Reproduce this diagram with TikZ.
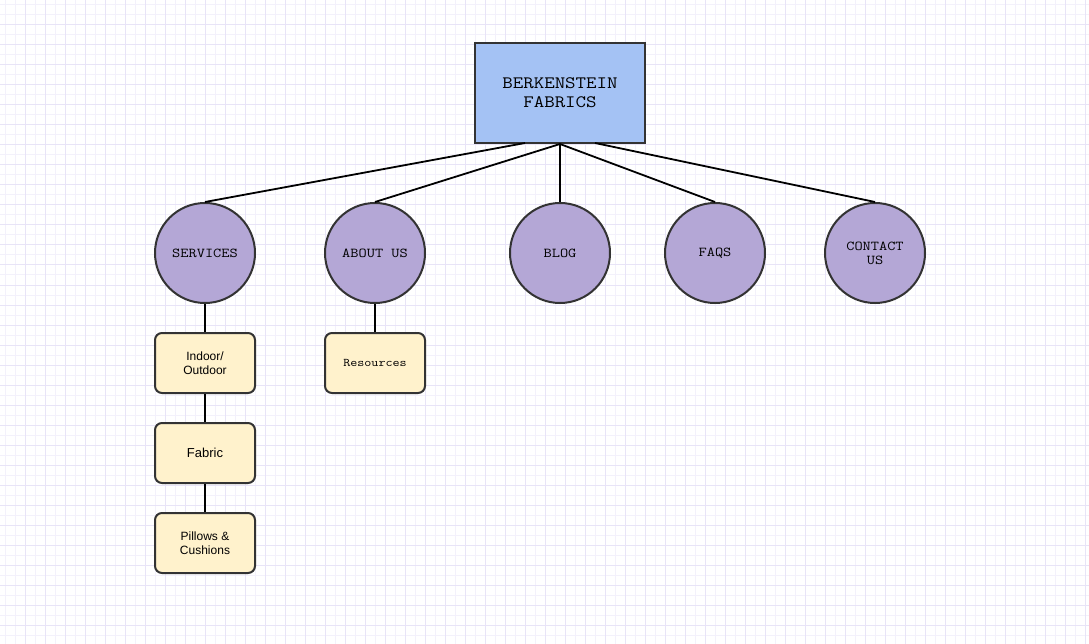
\documentclass[tikz,border=0pt]{standalone}
\usepackage{fontspec}
\setmainfont{Liberation Sans}
\newfontfamily\monofont[FakeStretch=1.17]{Latin Modern Mono}
\definecolor{gridminor}{HTML}{F3F1FB}
\definecolor{gridmajor}{HTML}{E8E4F7}
\definecolor{rootfill}{HTML}{A4C2F4}
\definecolor{sectionfill}{HTML}{B4A7D6}
\definecolor{pagefill}{HTML}{FFF2CC}
\definecolor{edgecol}{HTML}{333333}
\tikzset{
  rootbox/.style={draw=edgecol, line width=2pt, fill=rootfill, minimum width=170pt, minimum height=100pt, inner sep=0pt, align=center, font=\monofont\fontsize{17.4}{19}\selectfont},
  section/.style={circle, draw=edgecol, line width=2pt, fill=sectionfill, minimum size=100pt, inner sep=0pt, align=center, font=\monofont\fontsize{13.6}{14}\selectfont},
  pagebox/.style={draw=edgecol, line width=2pt, fill=pagefill, rounded corners=7pt, minimum width=100pt, minimum height=60pt, inner sep=0pt, align=center, font=\fontsize{12}{14}\selectfont},
  link/.style={draw=black, line width=1.8pt}
}
\begin{document}
\begin{tikzpicture}[x=1pt, y=-1pt]
  \useasboundingbox (0,0) rectangle (1089,644);
  % background grid
  \fill[white] (0,0) rectangle (1089,644);
  \foreach \gx in {5,15,...,1085} {\draw[gridminor, line width=1pt] (\gx,0) -- (\gx,644);}
  \foreach \gy in {5,15,...,644} {\draw[gridminor, line width=1pt] (0,\gy) -- (1089,\gy);}
  \foreach \gx in {25,45,...,1085} {\draw[gridmajor, line width=1pt] (\gx,0) -- (\gx,644);}
  \foreach \gy in {25,45,...,644} {\draw[gridmajor, line width=1pt] (0,\gy) -- (1089,\gy);}

  % connection points on the bottom edge of the root box
  \coordinate (hubL) at (525,143);
  \coordinate (hubR) at (595,143);

  % nodes
  \node[rootbox] (root) at (560,93) {BERKENSTEIN\\FABRICS};
  \node[section] (services) at (205,253) {SERVICES};
  \node[section] (about) at (375,253) {ABOUT US};
  \node[section] (blog) at (560,253) {BLOG};
  \node[section] (faqs) at (715,253) {FAQS};
  \node[section] (contact) at (875,253) {CONTACT\\US};

  \node[pagebox] (indoor) at (205,363) {Indoor/\\Outdoor};
  \node[pagebox, font=\fontsize{13}{14}\selectfont] (fabric) at (205,453) {Fabric};
  \node[pagebox] (pillows) at (205,543) {Pillows \&\\Cushions};
  \node[pagebox, font=\monofont\fontsize{11.7}{14}\selectfont] (resources) at (375,363) {Resources};

  % connectors
  \draw[link] (hubL) -- (services.north);
  \draw[link] (root.south) -- (about.north);
  \draw[link] (root.south) -- (blog.north);
  \draw[link] (root.south) -- (faqs.north);
  \draw[link] (hubR) -- (contact.north);
  \draw[link] (services.south) -- (indoor.north);
  \draw[link] (indoor.south) -- (fabric.north);
  \draw[link] (fabric.south) -- (pillows.north);
  \draw[link] (about.south) -- (resources.north);
\end{tikzpicture}
\end{document}
